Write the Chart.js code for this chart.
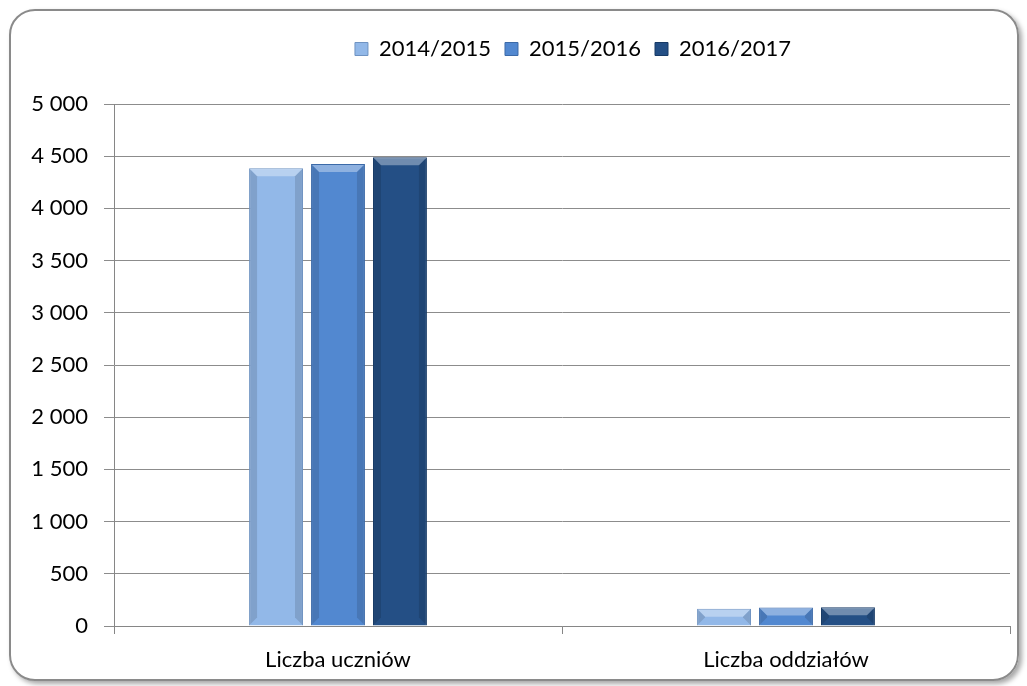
<!DOCTYPE html>
<html>
<head>
<meta charset="utf-8">
<script src="https://cdn.jsdelivr.net/npm/chart.js@4"></script>
<style>
    html, body { margin: 0; padding: 0; background: #fff; }
    body { width: 1027px; height: 686px; position: relative; overflow: hidden; }
    #frame {
        position: absolute; left: 9px; top: 9px; width: 1006px; height: 668px;
        border: 2px solid #8a8a8a; border-radius: 26px;
        box-shadow: 3px 3px 5px rgba(0,0,0,0.35);
    }
    #wrap { position: absolute; left: 0; top: 0; width: 1027px; height: 686px; }
</style>
</head>
<body>
<div id="frame"></div>
<div id="wrap"><canvas id="chart" width="1027" height="686"></canvas></div>
<script>
const categories = ['Liczba uczniów', 'Liczba oddziałów'];
const seriesNames = ['2014/2015', '2015/2016', '2016/2017'];
const values2014 = [4385, 165];
const values2015 = [4425, 178];
const values2016 = [4490, 180];
const yTicks = [0, 500, 1000, 1500, 2000, 2500, 3000, 3500, 4000, 4500, 5000];

const fills = ['#92b8e8', '#5288d0', '#244f85'];
const edges = ['#6f93c2', '#3c6aa8', '#173a66'];

function fmt(v) {
    return String(v).replace(/\B(?=(\d{3})+(?!\d))/g, ' ');
}

const font = { family: 'Lato', size: 22 };

// excel-like bevel on top of each bar
const bevel = {
    id: 'bevel',
    afterDatasetsDraw(chart) {
        const ctx = chart.ctx;
        chart.data.datasets.forEach((ds, i) => {
            chart.getDatasetMeta(i).data.forEach(bar => {
                const l = bar.x - bar.width / 2, r = bar.x + bar.width / 2;
                const t = bar.y, b = bar.base;
                const d = Math.min(8, (b - t) / 2);
                ctx.save();
                ctx.fillStyle = 'rgba(255,255,255,0.35)';
                ctx.beginPath();
                ctx.moveTo(l + 1, t + 1); ctx.lineTo(r - 1, t + 1);
                ctx.lineTo(r - d, t + d); ctx.lineTo(l + d, t + d);
                ctx.closePath(); ctx.fill();
                ctx.fillStyle = 'rgba(0,0,0,0.12)';
                ctx.beginPath();
                ctx.moveTo(r - 1, t + 1); ctx.lineTo(r - 1, b - 1);
                ctx.lineTo(r - d, b - d); ctx.lineTo(r - d, t + d);
                ctx.closePath(); ctx.fill();
                ctx.beginPath();
                ctx.moveTo(l + 1, t + 1); ctx.lineTo(l + 1, b - 1);
                ctx.lineTo(l + d, b - d); ctx.lineTo(l + d, t + d);
                ctx.closePath(); ctx.fill();
                ctx.restore();
            });
        });
    }
};

// push the plot area down below the legend, and move the legend right a bit
const legendSpace = {
    id: 'legendSpace',
    beforeInit(chart) {
        const lg = chart.legend;
        const origFit = lg.fit;
        lg.fit = function() {
            origFit.call(this);
            this.height = 83;
        };
        const origDraw = lg.draw;
        lg.draw = function() {
            const ctx = this.ctx;
            ctx.save();
            ctx.translate(68, 3);
            origDraw.call(this);
            ctx.restore();
        };
    }
};

document.addEventListener('DOMContentLoaded', function() {
    new Chart(document.getElementById('chart').getContext('2d'), {
        type: 'bar',
        data: {
            labels: categories,
            datasets: [values2014, values2015, values2016].map((vals, i) => ({
                label: seriesNames[i],
                data: vals,
                backgroundColor: fills[i],
                borderColor: edges[i],
                borderWidth: 1,
                barPercentage: 0.87,
                categoryPercentage: 0.415
            }))
        },
        plugins: [bevel, legendSpace],
        options: {
            responsive: false,
            animation: false,
            layout: { padding: { top: 21, right: 17, left: 0, bottom: 0 } },
            plugins: {
                legend: {
                    position: 'top',
                    labels: {
                        font: font,
                        color: '#000',
                        boxWidth: 13,
                        boxHeight: 13,
                        padding: 14
                    }
                },
                tooltip: { enabled: false }
            },
            scales: {
                x: {
                    grid: { display: true, drawOnChartArea: false, offset: true, color: '#868686', tickLength: 8 },
                    border: { color: '#868686' },
                    ticks: { font: font, color: '#000', padding: 13 },
                    afterFit: s => { s.height = 60; }
                },
                y: {
                    min: 0,
                    max: 5000,
                    afterBuildTicks: s => { s.ticks = yTicks.map(v => ({ value: v })); },
                    grid: { color: '#8c8c8c', tickLength: 10 },
                    border: { color: '#868686' },
                    ticks: { font: font, color: '#000', padding: 16, callback: v => fmt(v) },
                    afterFit: s => { s.width = 114; }
                }
            }
        }
    });
});
</script>
</body>
</html>
